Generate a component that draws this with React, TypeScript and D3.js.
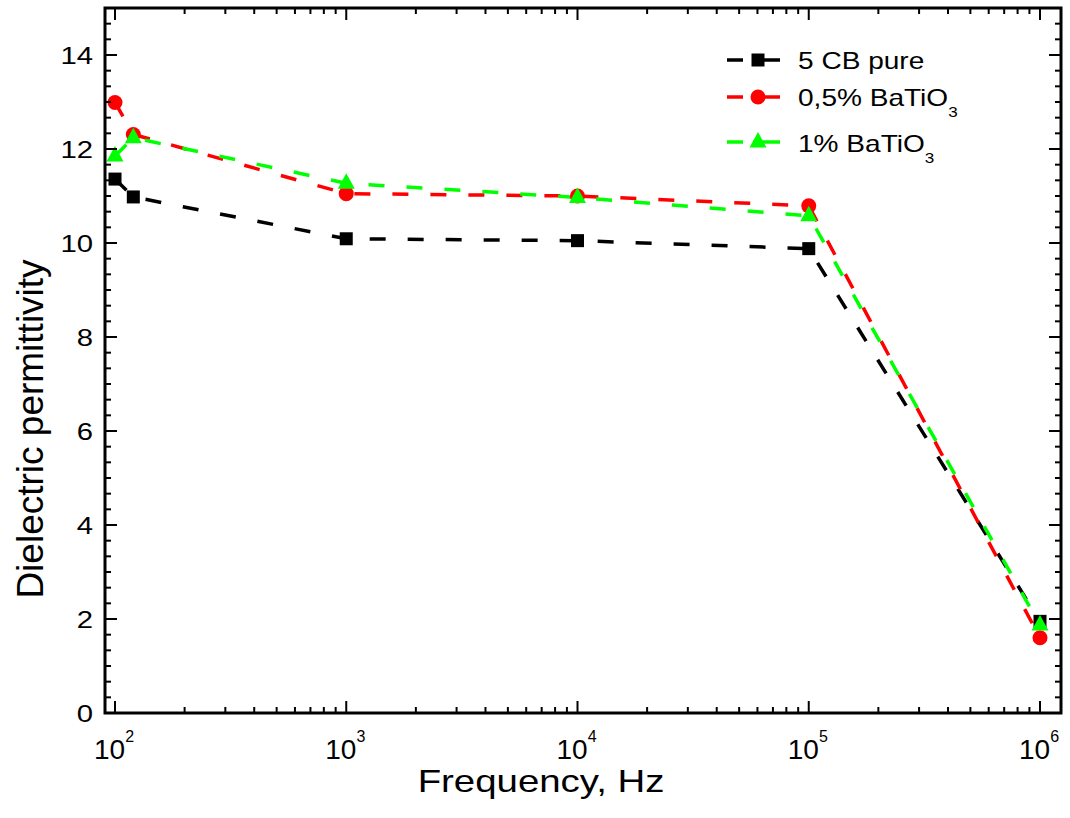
import React from "react";
import * as d3 from "d3";

const frequencies = [100, 120, 1000, 10000, 100000, 1000000];
const pure5CB = [11.36, 10.98, 10.09, 10.05, 9.88, 1.95];
const bt05 = [12.99, 12.31, 11.05, 11.0, 10.79, 1.6];
const bt1 = [11.85, 12.24, 11.27, 10.97, 10.58, 1.87];

const xMajorTicks = [100, 1000, 10000, 100000, 1000000];
const xMajorExp = ["2", "3", "4", "5", "6"];
const yMajorTicks = [0, 2, 4, 6, 8, 10, 12, 14];

const seriesNames = ["5 CB pure", "0,5% BaTiO", "1% BaTiO"];
const seriesSubs = ["", "3", "3"];
const seriesColors = ["#000000", "#ff0000", "#00ff00"];
const seriesMarkers = ["square", "circle", "triangle"];

const W = 1070;
const H = 818;
const FONT = "'Liberation Sans', Arial, Helvetica, sans-serif";

const plotLeft = 105;
const plotRight = 1061;
const plotTop = 8;
const plotBottom = 713;

function Marker({ kind, x, y, color }: { kind: string; x: number; y: number; color: string }) {
  if (kind === "square") {
    return <rect x={x - 6.5} y={y - 6.5} width={13} height={13} fill={color} />;
  }
  if (kind === "circle") {
    return <circle cx={x} cy={y} r={7.5} fill={color} />;
  }
  return (
    <polygon
      points={`${x},${y - 10} ${x + 8.5},${y + 5.5} ${x - 8.5},${y + 5.5}`}
      fill={color}
    />
  );
}

export default function App() {
  const xScale = d3.scaleLog().domain([100, 1e6]).range([115, 1040]);
  const yScale = d3.scaleLinear().domain([0, 15]).range([plotBottom, plotTop]);

  const xMinor = xScale
    .copy()
    .domain([xScale.invert(plotLeft), xScale.invert(plotRight)])
    .ticks()
    .filter((t) => xScale(t) >= plotLeft && xScale(t) <= plotRight);
  const yMinor = d3.range(0, 15.001, 1 / 3);

  const data = [pure5CB, bt05, bt1];
  const line = d3
    .line<number>()
    .x((_, i) => xScale(frequencies[i]))
    .y((d) => yScale(d));

  const majT = 12;
  const minT = 6;

  const legendRowsY = [60, 97, 142];
  const legendBase = [69, 106, 152];

  return (
    <svg width={W} height={H} style={{ position: "absolute", left: 0, top: 0, background: "#fff" }}>
      <rect x={0} y={0} width={W} height={H} fill="#fff" />

      {/* series lines */}
      {data.map((vals, si) => (
        <path
          key={"l" + si}
          d={line(vals) || ""}
          fill="none"
          stroke={seriesColors[si]}
          strokeWidth={3.5}
          strokeDasharray="16,22"
        />
      ))}
      {/* markers */}
      {data.map((vals, si) =>
        vals.map((v, i) => (
          <Marker
            key={`m${si}-${i}`}
            kind={seriesMarkers[si]}
            x={xScale(frequencies[i])}
            y={yScale(v)}
            color={seriesColors[si]}
          />
        ))
      )}

      {/* frame */}
      <rect
        x={plotLeft}
        y={plotTop}
        width={plotRight - plotLeft}
        height={plotBottom - plotTop}
        fill="none"
        stroke="#000"
        strokeWidth={3}
      />

      {/* x ticks */}
      {xMinor.map((t, i) => {
        const isMajor = xMajorTicks.some((m) => Math.abs(m - t) < 1e-6 * m);
        const len = isMajor ? majT : minT;
        const x = xScale(t);
        return (
          <g key={"xt" + i}>
            <line x1={x} x2={x} y1={plotBottom} y2={plotBottom - len} stroke="#000" strokeWidth={2} />
            <line x1={x} x2={x} y1={plotTop} y2={plotTop + len} stroke="#000" strokeWidth={2} />
          </g>
        );
      })}

      {/* y ticks */}
      {yMinor.map((t, i) => {
        const isMajor = yMajorTicks.some((m) => Math.abs(m - t) < 1e-6);
        const len = isMajor ? majT : minT;
        const y = yScale(t);
        return (
          <g key={"yt" + i}>
            <line x1={plotLeft} x2={plotLeft + len} y1={y} y2={y} stroke="#000" strokeWidth={2} />
            <line x1={plotRight} x2={plotRight - len} y1={y} y2={y} stroke="#000" strokeWidth={2} />
          </g>
        );
      })}

      {/* y tick labels */}
      {yMajorTicks.map((t) => (
        <g key={"yl" + t} transform={`translate(93,${yScale(t)}) scale(1.22,1)`}>
          <text x={0} y={0} dy="0.36em" textAnchor="end" fontFamily={FONT} fontSize={24} fill="#000">
            {t}
          </text>
        </g>
      ))}

      {/* x tick labels */}
      {xMajorTicks.map((t, i) => (
        <text
          key={"xl" + t}
          x={xScale(t) - 1}
          y={759}
          textAnchor="middle"
          fontFamily={FONT}
          fontSize={28}
          fill="#000"
        >
          10
          <tspan dy={-17} fontSize={16}>
            {xMajorExp[i]}
          </tspan>
        </text>
      ))}

      {/* axis titles */}
      <g transform={`translate(541,792) scale(1.2,1)`}>
        <text x={0} y={0} textAnchor="middle" fontFamily={FONT} fontSize={32} fill="#000">
          Frequency, Hz
        </text>
      </g>
      <text
        transform={`translate(43,429) rotate(-90)`}
        x={0}
        y={0}
        textAnchor="middle"
        fontFamily={FONT}
        fontSize={37}
        fill="#000"
      >
        Dielectric permittivity
      </text>

      {/* legend */}
      {seriesNames.map((name, si) => (
        <g key={"lg" + si}>
          <line
            x1={727}
            x2={780}
            y1={legendRowsY[si]}
            y2={legendRowsY[si]}
            stroke={seriesColors[si]}
            strokeWidth={3.5}
            strokeDasharray="16,10,40"
          />
          <Marker kind={seriesMarkers[si]} x={758} y={legendRowsY[si]} color={seriesColors[si]} />
          <g transform={`translate(798,${legendBase[si]}) scale(1.22,1)`}>
            <text x={0} y={0} fontFamily={FONT} fontSize={23} fill="#000">
              {name}
              {seriesSubs[si] ? (
                <tspan dy={11} fontSize={14}>
                  {seriesSubs[si]}
                </tspan>
              ) : null}
            </text>
          </g>
        </g>
      ))}
    </svg>
  );
}
